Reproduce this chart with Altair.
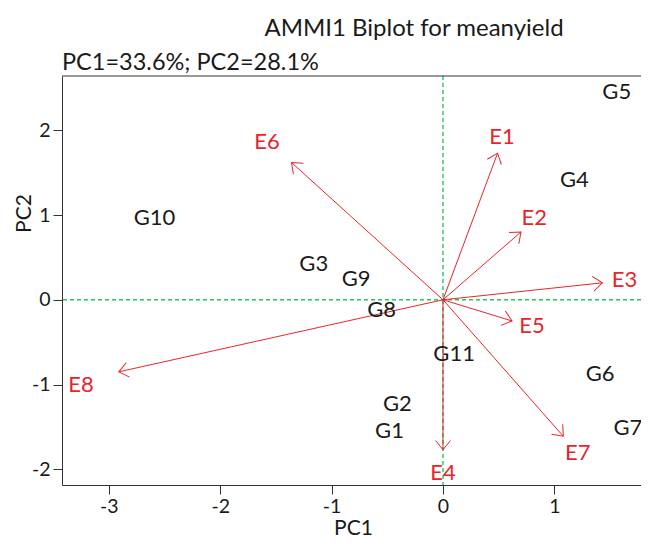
import math
import altair as alt
import pandas as pd

# ---- data ----
gen_names = ["G1", "G2", "G3", "G4", "G5", "G6", "G7", "G8", "G9", "G10", "G11"]
gen_pc1 = [-0.48, -0.41, -1.16, 1.18, 1.56, 1.41, 1.66, -0.55, -0.78, -2.59, 0.10]
gen_pc2 = [-1.55, -1.23, 0.42, 1.41, 2.45, -0.88, -1.51, -0.12, 0.24, 0.97, -0.64]

env_names = ["E1", "E2", "E3", "E4", "E5", "E6", "E7", "E8"]
env_pc1 = [0.49, 0.70, 1.43, 0.00, 0.62, -1.36, 1.08, -2.91]
env_pc2 = [1.73, 0.80, 0.20, -1.77, -0.25, 1.62, -1.61, -0.85]
env_lab_pc1 = [0.53, 0.82, 1.63, 0.00, 0.80, -1.58, 1.21, -3.25]
env_lab_pc2 = [1.92, 0.97, 0.23, -2.04, -0.31, 1.86, -1.81, -1.00]

x_ticks = [-3, -2, -1, 0, 1]
y_ticks = [-2, -1, 0, 1, 2]

title_text = "AMMI1 Biplot for meanyield"
sub_text = "PC1=33.6%; PC2=28.1%"

# ---- layout ----
W, H = 579, 409
X_DOM = [-3.42, -3.42 + W / 111.4]
Y_DOM = [-2.185, 2.64]
FONT = "Lato"
RED = "#e8242b"
GREEN = "#1fc95a"
INK = "#1a1a1a"

sx = W / (X_DOM[1] - X_DOM[0])
sy = H / (Y_DOM[1] - Y_DOM[0])

gen = pd.DataFrame({"name": gen_names, "pc1": gen_pc1, "pc2": gen_pc2})
env = pd.DataFrame({
    "name": env_names, "pc1": env_pc1, "pc2": env_pc2,
    "lx": env_lab_pc1, "ly": env_lab_pc2,
})
env["x0"] = 0.0
env["y0"] = 0.0
env["ang"] = [
    math.degrees(math.atan2(-b * sy, a * sx)) % 360 for a, b in zip(env_pc1, env_pc2)
]

xs = alt.Scale(domain=X_DOM, nice=False, zero=False)
ys = alt.Scale(domain=Y_DOM, nice=False, zero=False)

xax = alt.Axis(values=x_ticks, title="PC1", grid=False, labelFlush=False,
               labelExpr="datum.value", titleBaseline="alphabetic",
               titleY=49, titleX=291)
yax = alt.Axis(values=y_ticks, title="PC2", grid=False, labelFlush=False,
               labelExpr="datum.value", titleX=-28, titleY=137)

base_env = alt.Chart(env)

hline = alt.Chart(pd.DataFrame({"v": [0.0]})).mark_rule(
    color=GREEN, strokeDash=[4, 3], strokeWidth=1.4
).encode(y=alt.Y("v:Q", scale=ys, axis=yax))
vline = alt.Chart(pd.DataFrame({"v": [0.0]})).mark_rule(
    color=GREEN, strokeDash=[4, 3], strokeWidth=1.4
).encode(x=alt.X("v:Q", scale=xs, axis=xax))

shafts = base_env.mark_rule(color=RED, strokeWidth=1).encode(
    x=alt.X("x0:Q", scale=xs, axis=xax), x2="pc1:Q",
    y=alt.Y("y0:Q", scale=ys, axis=yax), y2="pc2:Q",
)
heads = base_env.mark_point(
    shape="M -1 -0.8 L 0 0 L -1 0.8", filled=False, color=RED,
    strokeWidth=1, size=350, opacity=1,
).encode(
    x=alt.X("pc1:Q", scale=xs, axis=xax),
    y=alt.Y("pc2:Q", scale=ys, axis=yax),
    angle=alt.Angle("ang:Q", scale=None),
)
env_labels = base_env.mark_text(
    color=RED, font=FONT, fontSize=22, align="center", baseline="middle"
).encode(
    x=alt.X("lx:Q", scale=xs, axis=xax),
    y=alt.Y("ly:Q", scale=ys, axis=yax),
    text="name:N",
)
gen_labels = alt.Chart(gen).mark_text(
    color=INK, font=FONT, fontSize=22, align="center", baseline="middle"
).encode(
    x=alt.X("pc1:Q", scale=xs, axis=xax),
    y=alt.Y("pc2:Q", scale=ys, axis=yax),
    text="name:N",
)

top_border = alt.Chart(pd.DataFrame({"v": [0]})).mark_rule(
    color="#333333", strokeWidth=1
).encode(x=alt.value(0), x2=alt.value(W + 2), y=alt.value(0))

title_mark = alt.Chart(pd.DataFrame({"t": [title_text]})).mark_text(
    font=FONT, fontSize=24, color=INK, align="center", baseline="alphabetic"
).encode(x=alt.value(352), y=alt.value(-40), text="t:N")
sub_mark = alt.Chart(pd.DataFrame({"t": [sub_text]})).mark_text(
    font=FONT, fontSize=23.5, color=INK, align="left", baseline="alphabetic"
).encode(x=alt.value(0), y=alt.value(-6), text="t:N")

chart = alt.layer(
    hline, vline, shafts, heads, env_labels, gen_labels, top_border,
    title_mark, sub_mark,
).properties(
    width=W, height=H,
    autosize=alt.AutoSizeParams(type="none"),
    padding={"left": 54, "top": 68, "right": 0, "bottom": 53},
).configure_view(stroke=None).configure_axis(
    labelFont=FONT, labelFontSize=19.5, labelColor=INK,
    titleFont=FONT, titleFontSize=21, titleFontWeight="normal", titleColor=INK,
    domainColor="#333333", tickColor="#333333", tickSize=9, labelPadding=3,
    domainWidth=1, tickWidth=1,
)

chart.save("out.html", embed_options={"renderer": "svg", "actions": False})
